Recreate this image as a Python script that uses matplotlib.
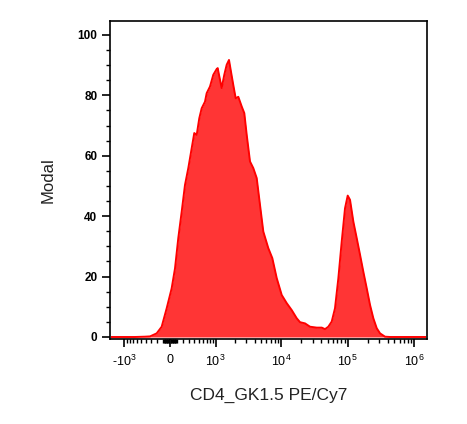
import numpy as np
import matplotlib
matplotlib.use("Agg")
import matplotlib.pyplot as plt
from matplotlib.ticker import FixedLocator, FixedFormatter, MultipleLocator

plt.rcParams["font.family"] = ["Liberation Sans", "DejaVu Sans"]
plt.rcParams["mathtext.fontset"] = "custom"
plt.rcParams["mathtext.rm"] = "Liberation Sans"
plt.rcParams["mathtext.default"] = "regular"

# CD4_GK1.5 PE/Cy7 intensity vs. modal %
intensity = [-1570, -660, -420, -320, -205, -125, -49, 25, 75, 125, 179, 233,
             291, 354, 405, 456, 514, 571, 657, 704, 803, 913, 1038, 1077,
             1130, 1248, 1372, 1496, 1625, 1745, 1894, 2062, 2260, 2547, 2789,
             3034, 3403, 3818, 4297, 4819, 5403, 6426, 7383, 8596, 10220,
             12150, 14450, 17170, 19250, 22900, 27200, 34300, 40800, 45700,
             51200, 57600, 64500, 72400, 81400, 91200, 100100, 108400, 121600,
             136700, 153300, 171800, 193200, 216500, 242700, 273000, 306000,
             363600, 432000, 1450000]
modal = [0, 0, 0.1, 0.2, 1.2, 3.4, 9.5, 16.1, 22.7, 32.7, 41.5, 50.3,
         55.9, 62.5, 67.5, 66.9, 72.4, 75.7, 77.9, 80.7, 82.9, 86.8, 88.7, 89.0,
         86.8, 82.4, 86.8, 90.1, 91.7, 87.8, 83.4, 79.0, 79.5, 76.3, 74.1,
         66.9, 58.1, 55.9, 52.6, 43.7, 34.9, 29.4, 26.1, 19.5, 13.9,
         11.2, 8.9, 6.2, 4.9, 4.5, 3.4, 3.1, 3.1, 2.6,
         3.4, 5.1, 9.5, 19.4, 31.6, 42.6, 46.8, 45.4, 38.2,
         32.7, 27.2, 21.6, 16.1, 10.6, 6.2, 2.9, 1.2,
         0.1, 0, 0]

x_major = [-1e3, 0, 1e3, 1e4, 1e5, 1e6]
x_major_labels = ["-10$^3$", "0", "10$^3$", "10$^4$", "10$^5$", "10$^6$"]

W = 430.0  # biexponential width


def fwd(x):
    return np.arcsinh(np.asarray(x) / W) / np.log(10)


def inv(y):
    return W * np.sinh(np.asarray(y) * np.log(10))


fig = plt.figure(figsize=(4.67, 4.24), dpi=100)
ax = fig.add_axes([0.2355, 0.2005, 0.6788, 0.75])
ax.set_xscale("function", functions=(fwd, inv))

ax.fill_between(intensity, modal, 0, color="#ff3535", lw=0, zorder=2)
ax.plot(intensity, modal, color="#ff0000", lw=1.4, zorder=3)

ax.set_xlim(-1684, 1.55e6)
ax.set_ylim(-0.66, 104.6)

minor = []
for j in range(1, 6):
    for k in range(1, 10):
        v = k * 10 ** j
        if v not in x_major:
            minor += [v, -v]
minor = [m for m in minor if -1684 < m < 1.55e6]
ax.xaxis.set_major_locator(FixedLocator(x_major))
ax.xaxis.set_major_formatter(FixedFormatter(x_major_labels))
ax.xaxis.set_minor_locator(FixedLocator(minor))

ax.yaxis.set_major_locator(MultipleLocator(20))
ax.yaxis.set_minor_locator(MultipleLocator(5))

ax.tick_params(axis="both", which="major", direction="out", length=6, width=1.2,
               labelsize=8.5, pad=3)
ax.tick_params(axis="both", which="minor", direction="out", length=3, width=1.0)
ax.tick_params(axis="x", which="major", labelsize=9, pad=5)
for lab in ax.get_yticklabels():
    lab.set_fontweight("bold")

for s in ax.spines.values():
    s.set_linewidth(1.2)

ax.set_xlabel("CD4_GK1.5 PE/Cy7", fontsize=12.5, labelpad=13, color="#222222")
ax.set_ylabel("Modal", fontsize=12, labelpad=16, color="#222222")

fig.savefig("out.png", dpi=100, facecolor="white")
